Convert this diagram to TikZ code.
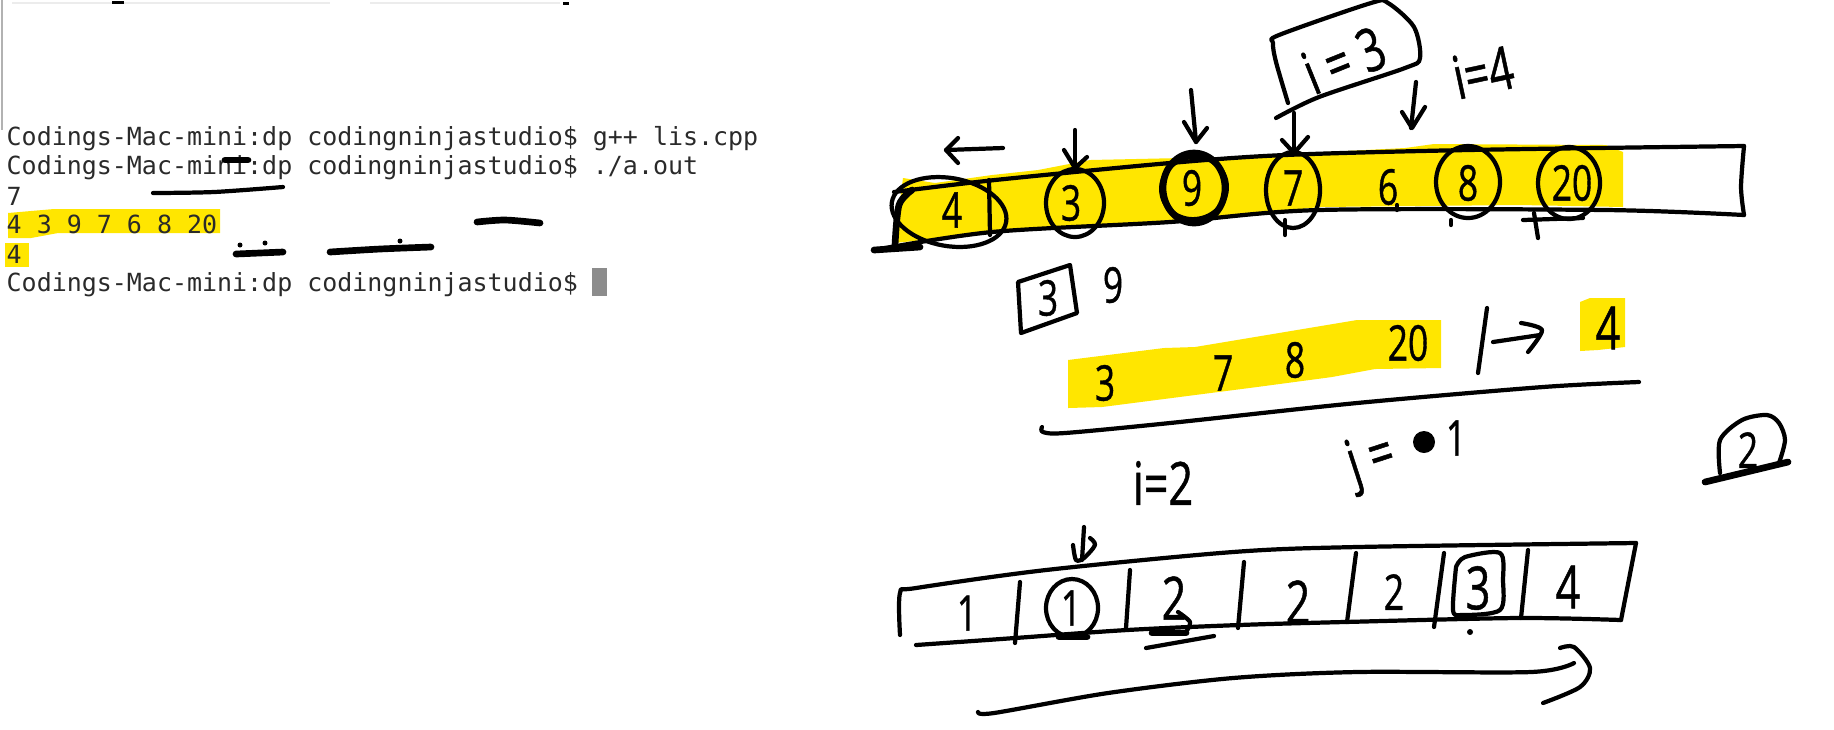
\documentclass[tikz,border=0pt]{standalone}
\usepackage{fontspec}
\setmonofont{DejaVu Sans Mono}
\newfontfamily\handfont[FakeStretch=0.72, FakeBold=0.8]{Open Sans}
\definecolor{marker}{HTML}{FFE600}
\definecolor{cursorgray}{HTML}{8C8C8C}
\definecolor{termink}{HTML}{2A2A2A}
\tikzset{
  pen/.style={line width=1.2pt, line cap=round, line join=round},
  fatpen/.style={line width=1.9pt, line cap=round, line join=round},
  termline/.style={anchor=west, inner sep=0pt, text=termink, font=\fontsize{7.1}{8}\selectfont\ttfamily},
  hand/.style={inner sep=0pt, font=\fontsize{14}{16}\selectfont\handfont},
  handbig/.style={inner sep=0pt, font=\fontsize{17}{20}\selectfont\handfont}
}
\begin{document}
\begin{tikzpicture}[x=0.01cm, y=-0.01cm]
\useasboundingbox (0, 0) rectangle (1834, 729);

% Marker highlights
\fill[marker] (8, 213) -- (54, 209) -- (220, 209) -- (220, 233) -- (58, 233) -- (31, 238) -- (8, 238) -- cycle;
\fill[marker] (5, 243) rectangle (29, 267);
\fill[marker] (903, 178) -- (935, 183) -- (992, 175) -- (1038, 170) -- (1090, 160) -- (1227, 157) -- (1405, 148) -- (1434, 144) -- (1606, 145) -- (1623, 152) -- (1623, 207) -- (1520, 205) -- (1319, 207) -- (1181, 222) -- (1090, 227) -- (992, 233) -- (894, 243) -- (900, 200) -- cycle;
\fill[marker] (1068, 360) -- (1164, 348) -- (1195, 347) -- (1357, 320) -- (1441, 320) -- (1441, 368) -- (1375, 369) -- (1332, 377) -- (1257, 387) -- (1195, 395) -- (1102, 407) -- (1068, 408) -- cycle;
\fill[marker] (1580, 302) -- (1590, 298) -- (1625, 298) -- (1625, 347) -- (1598, 350) -- (1580, 351) -- cycle;

% Terminal window
\draw[gray!60, line width=0.5pt] (2, 0) -- (2, 130);
\draw[gray!15, line width=0.8pt] (12, 3) -- (330, 3);
\draw[gray!15, line width=0.8pt] (370, 3) -- (560, 3);
\fill (112, 1) rectangle (124, 4);
\fill (563, 2) rectangle (569, 5);
\node[termline] (prompta) at (6, 139) {Codings-Mac-mini:dp codingninjastudio\$ g++ lis.cpp};
\node[termline] (promptb) at (6, 168) {Codings-Mac-mini:dp codingninjastudio\$ ./a.out};
\node[termline] (countline) at (6, 196) {7};
\node[termline] (arrline) at (6, 224) {4 3 9 7 6 8 20};
\node[termline] (ansline) at (6, 254) {4};
\node[termline] (promptc) at (6, 285) {Codings-Mac-mini:dp codingninjastudio\$};
\fill[cursorgray] (592, 268) rectangle (607, 296);

% Pen marks over the terminal
\draw[pen] plot[smooth] coordinates {(153, 193) (214, 192) (283, 187)};
\draw[fatpen] (225, 160) -- (248, 160);
\draw[fatpen] plot[smooth] coordinates {(477, 222) (505, 220) (540, 223)};
\draw[fatpen] (236, 254) -- (283, 252);
\fill (240, 245) circle (2.5);
\fill (265, 243) circle (2.5);
\draw[fatpen] plot[smooth] coordinates {(330, 252) (380, 249) (431, 247)};
\fill (400, 241) circle (2.5);

% Top array
\draw[pen] plot[smooth] coordinates {(894, 192) (995, 180) (1170, 163) (1285, 155) (1468, 150) (1744, 146)};
\draw[pen] plot[smooth] coordinates {(1744, 146) (1741, 187) (1744, 215)};
\draw[pen] plot[smooth] coordinates {(1744, 215) (1606, 210) (1319, 210) (1170, 222) (992, 232) (874, 250)};
\draw[fatpen] plot[smooth] coordinates {(912, 190) (899, 205) (895, 245)};
\draw[fatpen] (874, 250) -- (920, 247);
\draw[pen] (989, 180) -- (990, 235);
\draw[pen, rotate around={-10:(949, 212)}] (949, 212) ellipse (58 and 34);
\draw[pen] (1075, 203) ellipse (29 and 34);
\draw[fatpen] (1194, 188) ellipse (31 and 35);
\draw[pen, rotate around={15:(1194, 188)}] (1194, 188) ellipse (33 and 31);
\draw[pen] (1293, 190) ellipse (27 and 38);
\draw[pen] (1468, 182) ellipse (32 and 36);
\draw[pen] (1569, 183) ellipse (31 and 36);
\draw[pen] (1285, 220) -- (1285, 235);
\draw[pen] (1534, 213) -- (1538, 238);
\draw[pen] (1523, 220) -- (1583, 218);
\draw[pen] (1451, 220) -- (1451, 225);
\draw[pen] (1397, 205) -- (1397, 210);
\node[hand] (topfour) at (952, 210) {4};
\node[hand] (topthree) at (1071, 203) {3};
\node[hand] (topnine) at (1192, 188) {9};
\node[hand] (topseven) at (1293, 188) {7};
\node[hand] (topsix) at (1388, 187) {6};
\node[hand] (topeight) at (1468, 183) {8};
\node[hand] (toptwenty) at (1572, 183) {20};

% Pointer arrows
\draw[pen] (1003, 148) -- (946, 150);
\draw[pen] (958, 138) -- (946, 150) -- (958, 163);
\draw[pen] (1075, 130) -- (1075, 168);
\draw[pen] (1064, 150) -- (1075, 168) -- (1087, 157);
\draw[pen] (1191, 90) -- (1196, 142);
\draw[pen] (1184, 122) -- (1196, 142) -- (1207, 128);
\draw[pen] (1294, 113) -- (1294, 153);
\draw[pen] (1282, 140) -- (1294, 153) -- (1308, 137);
\draw[pen] (1416, 82) -- (1411, 128);
\draw[pen] (1402, 112) -- (1412, 128) -- (1425, 107);

% Index notes
\draw[pen] plot[smooth] coordinates {(1288, 103) (1276, 62) (1273, 43) (1279, 35) (1371, 3) (1388, 3) (1414, 27) (1420, 58) (1405, 68) (1319, 97) (1276, 118)};
\node[handbig, rotate=22] (ithree) at (1344, 60) {i = 3};
\node[handbig, rotate=12] (ifour) at (1483, 72) {i=4};
\draw[pen] (1018, 282) -- (1070, 265) -- (1077, 313) -- (1021, 333) -- cycle;
\node[hand] (boxthree) at (1048, 298) {3};
\node[hand] (sidenine) at (1113, 285) {9};

% Subsequence row
\node[hand] (rowthree) at (1105, 383) {3};
\node[hand] (rowseven) at (1223, 373) {7};
\node[hand] (roweight) at (1295, 360) {8};
\node[hand] (rowtwenty) at (1408, 343) {20};
\draw[pen] (1487, 308) -- (1478, 373);
\draw[pen] (1493, 342) -- (1540, 335);
\draw[pen] plot[smooth] coordinates {(1521, 323) (1542, 330) (1528, 352)};
\node[handbig] (rowfour) at (1608, 328) {4};
\draw[pen] plot[smooth] coordinates {(1639, 382) (1543, 387) (1357, 403) (1170, 423) (1065, 433) (1043, 432) (1042, 427)};

\node[handbig] (itwo) at (1163, 483) {i=2};
\node[handbig, rotate=18] (jeq) at (1372, 462) {j =};
\fill (1424, 442) circle (11);
\node[hand] (jone) at (1456, 438) {1};

% Boxed answer
\draw[pen] plot[smooth] coordinates {(1720, 473) (1720, 440) (1742, 420) (1767, 415) (1779, 423) (1785, 440) (1779, 463)};
\draw[fatpen] (1705, 482) -- (1788, 462);
\node[hand] (boxedtwo) at (1748, 450) {2};

% Bottom array
\draw[pen] plot[smooth] coordinates {(900, 635) (900, 593) (916, 588) (1046, 570) (1233, 552) (1357, 547) (1636, 543)};
\draw[pen] (1636, 543) -- (1621, 620);
\draw[pen] plot[smooth] coordinates {(1621, 620) (1518, 618) (1344, 622) (1239, 625) (1127, 630) (1015, 638) (916, 645)};
\draw[pen] (1020, 582) -- (1015, 643);
\draw[pen] (1130, 570) -- (1126, 628);
\draw[pen] (1244, 562) -- (1238, 628);
\draw[pen] (1356, 553) -- (1347, 622);
\draw[pen] (1444, 553) -- (1434, 627);
\draw[pen] (1528, 550) -- (1521, 618);
\node[hand] (cellone) at (967, 613) {1};
\draw[pen] (1072, 608) ellipse (26 and 29);
\draw[fatpen] (1059, 637) -- (1087, 637);
\node[hand] (celltwo) at (1071, 608) {1};
\node[handbig] (cellthree) at (1174, 598) {2};
\draw[pen] plot[smooth] coordinates {(1178, 612) (1190, 622) (1186, 632)};
\draw[fatpen] (1152, 633) -- (1186, 633);
\draw[pen] (1146, 648) -- (1214, 636);
\node[handbig] (cellfour) at (1298, 602) {2};
\node[hand] (cellfive) at (1394, 592) {2};
\node[handbig] (cellsix) at (1478, 588) {3};
\draw[pen] plot[smooth] coordinates {(1456, 567) (1465, 557) (1500, 553) (1503, 580) (1500, 610) (1462, 615) (1453, 610) (1456, 567)};
\node[handbig] (cellseven) at (1568, 587) {4};
\fill (1470, 632) circle (3);

% Pointer and sweep under the bottom array
\draw[pen] (1084, 527) -- (1082, 560);
\draw[pen] plot[smooth] coordinates {(1073, 545) (1076, 560) (1084, 558) (1095, 545) (1090, 538)};
\draw[pen] plot[smooth] coordinates {(978, 712) (994, 713) (1108, 693) (1233, 678) (1357, 672) (1531, 672) (1574, 663)};
\draw[pen] plot[smooth] coordinates {(1560, 648) (1574, 647) (1590, 668) (1580, 687) (1543, 703)};
\end{tikzpicture}
\end{document}
